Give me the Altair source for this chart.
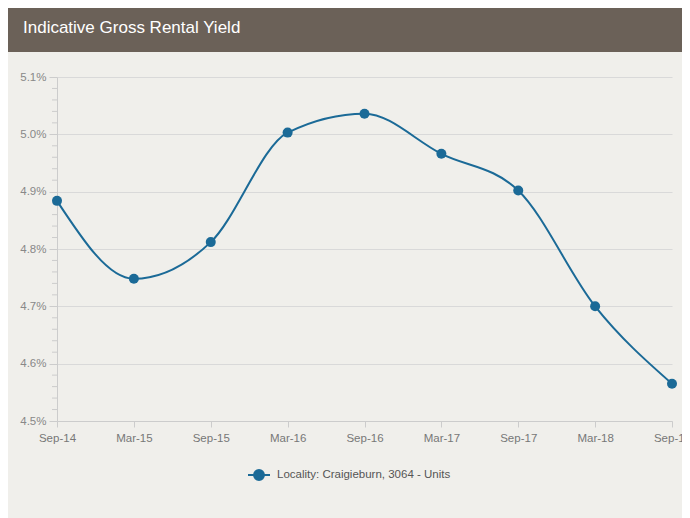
import altair as alt
import pandas as pd

periods = ["Sep-14", "Mar-15", "Sep-15", "Mar-16", "Sep-16", "Mar-17", "Sep-17", "Mar-18", "Sep-18"]
yields = [4.884, 4.748, 4.812, 5.003, 5.036, 4.966, 4.902, 4.700, 4.565]
series_name = "Locality: Craigieburn, 3064 - Units"
major_ticks = [4.5, 4.6, 4.7, 4.8, 4.9, 5.0, 5.1]
minor_ticks = [round(4.5 + 0.02 * i, 2) for i in range(31) if i % 5 != 0]
title_text = "Indicative Gross Rental Yield"

LINE = "#1b6a97"
BG = "#f0efeb"
HEADER = "#6b6158"
FONT = "Liberation Sans"

df = pd.DataFrame({"period": periods, "yield": yields, "series": [series_name] * len(periods)})
minor_df = pd.DataFrame({"v": minor_ticks})
one = pd.DataFrame({"a": [0]})

x_enc = alt.X(
    "period:O", sort=periods, title=None,
    scale=alt.Scale(type="point", padding=0),
    axis=alt.Axis(labelAngle=0, labelFontSize=11.5, labelColor="#777777", labelFont=FONT,
                  domainColor="#cccccc", tickColor="#cccccc", tickSize=6, labelPadding=5,
                  grid=False),
)
y_enc = alt.Y(
    "yield:Q", title=None,
    scale=alt.Scale(domain=[4.5, 5.1], nice=False, zero=False),
    axis=alt.Axis(values=major_ticks, labelExpr="format(datum.value, '.1f') + '%'",
                  labelFontSize=11.5, labelColor="#888888", labelFont=FONT,
                  domainColor="#cccccc", tickColor="#cccccc", tickSize=8, labelPadding=3,
                  gridColor="#d9d9d9", gridWidth=1),
)

legend_path = ("M-1,0 L1,0 M0.45,0 A0.45,0.45 0 1,1 -0.45,0 A0.45,0.45 0 1,1 0.45,0 Z")

color_enc = alt.Color(
    "series:N", title=None,
    scale=alt.Scale(domain=[series_name], range=[LINE]),
    legend=alt.Legend(orient="none", legendX=190, legendY=386, symbolType=legend_path,
                      symbolSize=484, symbolStrokeWidth=2, symbolFillColor=LINE,
                      labelFontSize=11.5, labelColor="#555555", labelFont=FONT,
                      labelOffset=6, labelLimit=0),
)

header = alt.Chart(one).mark_rect(color=HEADER).encode(
    x=alt.value(-49), x2=alt.value(625), y=alt.value(-69), y2=alt.value(-25)
)
title = alt.Chart(one).mark_text(
    align="left", baseline="middle", color="white", fontSize=17, font=FONT
).encode(x=alt.value(-34), y=alt.value(-49), text=alt.value(title_text))

minor = alt.Chart(minor_df).mark_rule(color="#cccccc").encode(
    y=alt.Y("v:Q", scale=alt.Scale(domain=[4.5, 5.1], nice=False, zero=False)),
    x=alt.value(-5), x2=alt.value(0),
)

line = alt.Chart(df).mark_line(interpolate="monotone", strokeWidth=2).encode(
    x=x_enc, y=y_enc, color=color_enc
)
points = alt.Chart(df).mark_circle(size=100, opacity=1).encode(
    x=x_enc, y=y_enc, color=alt.Color("series:N", scale=alt.Scale(domain=[series_name], range=[LINE]), legend=None)
)

chart = alt.layer(header, title, minor, line, points).properties(
    width=615, height=344,
    autosize=alt.AutoSizeParams(type="none"),
    padding={"left": 49, "top": 69, "right": 10, "bottom": 97},
    background=BG,
).configure_view(stroke=None, fill=BG)

chart.save("out.html", embed_options={"renderer": "svg", "actions": False})
